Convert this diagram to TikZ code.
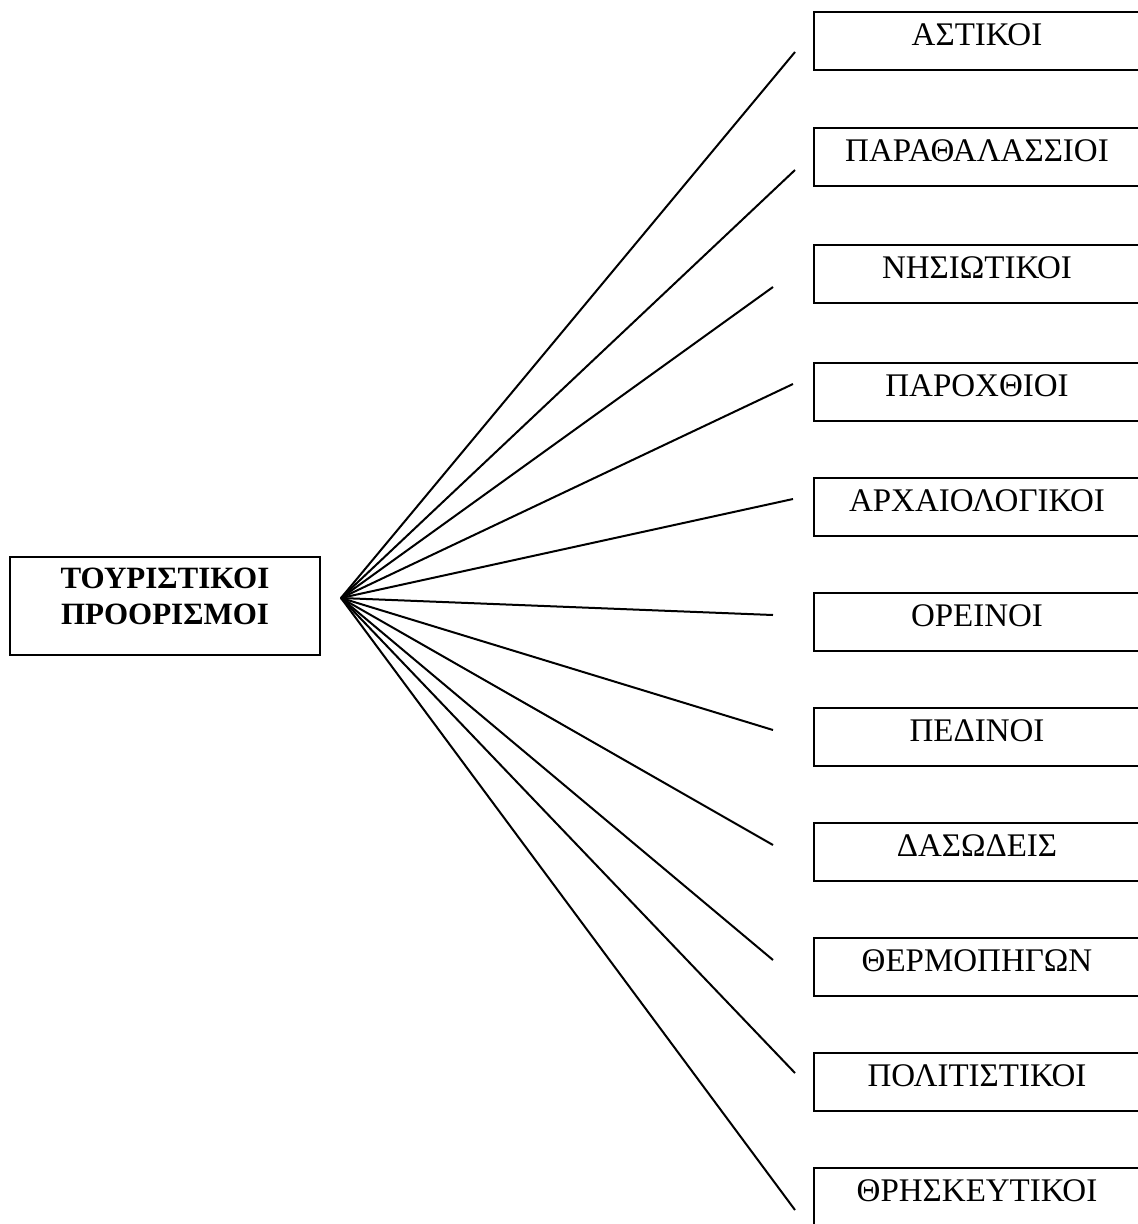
\documentclass[tikz,border=0pt]{standalone}
\usepackage{fontspec}
\setmainfont{Liberation Serif}
\begin{document}
\begin{tikzpicture}[x=1pt,y=-1pt,
  cat/.style={draw,line width=2.8pt,minimum width=326pt,inner xsep=0pt,inner ysep=0pt,
    text height=33pt,text depth=25pt,font=\fontsize{33}{36}\selectfont},
  root/.style={draw,line width=2.8pt,minimum width=310pt,inner sep=0pt,
    text height=49pt,text depth=49pt,font=\fontsize{31}{36}\selectfont\bfseries},
  spoke/.style={line width=2pt}]
\fill[white] (0,0) rectangle (1138,1224);
\useasboundingbox (0,0) rectangle (1138,1224);

\node[root] (root) at (165,606) {\begin{tabular}{@{}c@{}}ΤΟΥΡΙΣΤΙΚΟΙ\\ΠΡΟΟΡΙΣΜΟΙ\end{tabular}};

\node[cat] (c1)  at (977,41)   {ΑΣΤΙΚΟΙ};
\node[cat] (c2)  at (977,157)  {ΠΑΡΑΘΑΛΑΣΣΙΟΙ};
\node[cat] (c3)  at (977,274)  {ΝΗΣΙΩΤΙΚΟΙ};
\node[cat] (c4)  at (977,392)  {ΠΑΡΟΧΘΙΟΙ};
\node[cat] (c5)  at (977,507)  {ΑΡΧΑΙΟΛΟΓΙΚΟΙ};
\node[cat] (c6)  at (977,622)  {ΟΡΕΙΝΟΙ};
\node[cat] (c7)  at (977,737)  {ΠΕΔΙΝΟΙ};
\node[cat] (c8)  at (977,852)  {ΔΑΣΩΔΕΙΣ};
\node[cat] (c9)  at (977,967)  {ΘΕΡΜΟΠΗΓΩΝ};
\node[cat] (c10) at (977,1082) {ΠΟΛΙΤΙΣΤΙΚΟΙ};
\node[cat] (c11) at (977,1197) {ΘΡΗΣΚΕΥΤΙΚΟΙ};

\coordinate (hub) at (341,598);
\coordinate (e1)  at (795,52);
\coordinate (e2)  at (795,170);
\coordinate (e3)  at (773,287);
\coordinate (e4)  at (793,384);
\coordinate (e5)  at (793,499);
\coordinate (e6)  at (773,615);
\coordinate (e7)  at (773,730);
\coordinate (e8)  at (773,845);
\coordinate (e9)  at (773,960);
\coordinate (e10) at (795,1073);
\coordinate (e11) at (795,1210);

\foreach \i in {1,...,11} \draw[spoke] (hub) -- (e\i);
\end{tikzpicture}
\end{document}
